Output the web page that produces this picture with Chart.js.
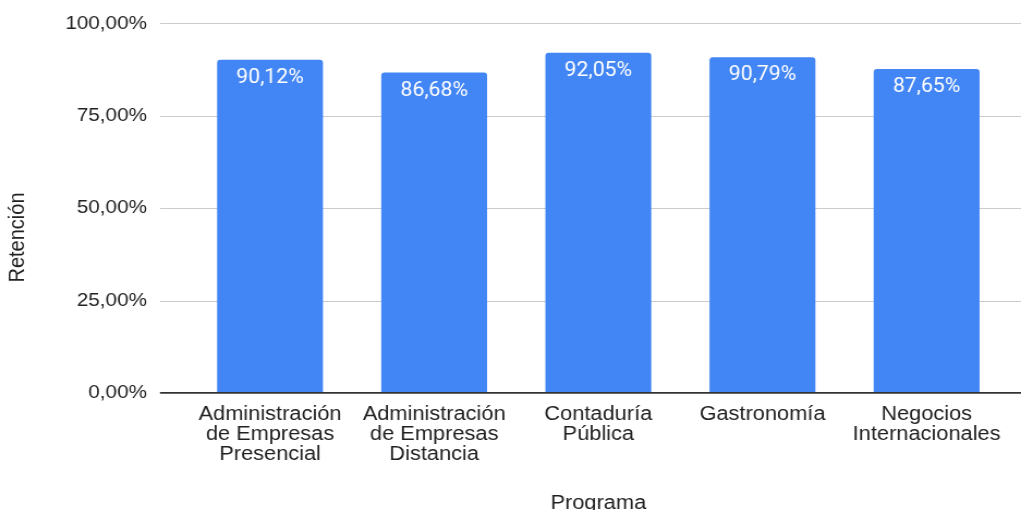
<!DOCTYPE html>
<html>
<head>
<meta charset="utf-8">
<script src="https://cdn.jsdelivr.net/npm/chart.js@4.4.0/dist/chart.umd.min.js"></script>
<style>
  html, body { margin: 0; padding: 0; background: #fff; overflow: hidden; }
  #wrap { width: 1021px; height: 510px; overflow: hidden; }
  /* the reference is a horizontally stretched export, so draw narrow and stretch */
  #chart { display: block; transform: scaleX(1.08965); transform-origin: 0 0; }
</style>
</head>
<body>
<div id="wrap"><canvas id="chart" width="937" height="510"></canvas></div>
<script>
// ===========================
// Data
// ===========================
const PROGRAMS = [
  ['Administración', 'de Empresas', 'Presencial'],
  ['Administración', 'de Empresas', 'Distancia'],
  ['Contaduría', 'Pública'],
  ['Gastronomía'],
  ['Negocios', 'Internacionales']
];
const RETENTION = [90.12, 86.68, 92.05, 90.79, 87.65];
const Y_TICKS = [0, 25, 50, 75, 100];
const X_TITLE = 'Programa';
const Y_TITLE = 'Retención';

// ===========================
// Style constants
// ===========================
const BAR_COLOR = '#4285f4';
const GRID_COLOR = '#cccccc';
const AXIS_COLOR = '#333333';
const TEXT_COLOR = '#222222';
const FONT = '"Liberation Sans", Arial, sans-serif';
const LABEL_FONT = 'Roboto, "Liberation Sans", sans-serif';
const GRID_LEFT = 146.8;

function pct(v) { return v.toFixed(2).replace('.', ',') + '%'; }

// ===========================
// Plugins: grid, baseline, labels, y title
// ===========================
const decorPlugin = {
  id: 'decor',
  beforeDatasetsDraw(chart) {
    const { ctx, scales: { y } } = chart;
    ctx.save();
    ctx.strokeStyle = GRID_COLOR;
    ctx.lineWidth = 1;
    y.ticks.forEach(t => {
      if (t.value === 0) return;
      const py = Math.round(y.getPixelForValue(t.value)) + 0.5;
      ctx.beginPath();
      ctx.moveTo(GRID_LEFT, py);
      ctx.lineTo(chart.width, py);
      ctx.stroke();
    });
    ctx.restore();
  },
  afterDatasetsDraw(chart) {
    const { ctx, scales: { y } } = chart;
    ctx.save();
    // zero line over the bar bottoms
    const py0 = y.getPixelForValue(0);
    ctx.strokeStyle = AXIS_COLOR;
    ctx.lineWidth = 1.6;
    ctx.beginPath();
    ctx.moveTo(GRID_LEFT, py0);
    ctx.lineTo(chart.width, py0);
    ctx.stroke();

    // value labels inside the bars
    ctx.fillStyle = '#ffffff';
    ctx.font = '19.5px ' + LABEL_FONT;
    ctx.textAlign = 'center';
    ctx.textBaseline = 'alphabetic';
    chart.getDatasetMeta(0).data.forEach((bar, i) => {
      ctx.fillText(pct(RETENTION[i]), bar.x, bar.y + 23);
    });

    // y axis title, centred a bit lower than the plot like the original
    ctx.fillStyle = TEXT_COLOR;
    ctx.font = '20px ' + FONT;
    ctx.textBaseline = 'middle';
    ctx.translate(16.5, 237.5);
    ctx.rotate(-Math.PI / 2);
    ctx.fillText(Y_TITLE, 0, 0);
    ctx.restore();
  }
};

// ===========================
// Chart
// ===========================
const ctx = document.getElementById('chart').getContext('2d');
new Chart(ctx, {
  type: 'bar',
  data: {
    labels: PROGRAMS,
    datasets: [{
      label: Y_TITLE,
      data: RETENTION,
      backgroundColor: BAR_COLOR,
      borderRadius: 3,
      borderSkipped: 'start',
      categoryPercentage: 0.645,
      barPercentage: 1
    }]
  },
  options: {
    responsive: false,
    devicePixelRatio: 1,
    animation: false,
    layout: { padding: { left: 0, right: 11.3, top: 23.3, bottom: 0 } },
    plugins: { legend: { display: false }, tooltip: { enabled: false } },
    scales: {
      x: {
        grid: { display: false },
        border: { display: false },
        ticks: {
          color: TEXT_COLOR,
          font: { family: FONT, size: 20, lineHeight: 1 },
          padding: 4,
          maxRotation: 0,
          autoSkip: false
        },
        title: {
          display: true,
          text: X_TITLE,
          color: TEXT_COLOR,
          font: { family: FONT, size: 20, lineHeight: 1 },
          padding: { top: 0, bottom: -3 }
        },
        afterFit: s => { s.height = 117.1; }
      },
      y: {
        min: 0,
        max: 100,
        // invisible tick marks only to push the labels away from the plot
        grid: { display: true, drawOnChartArea: false, drawTicks: true, tickLength: 37.6, tickColor: 'rgba(0,0,0,0)' },
        border: { display: false },
        afterBuildTicks: s => { s.ticks = Y_TICKS.map(v => ({ value: v })); },
        ticks: {
          color: TEXT_COLOR,
          font: { family: FONT, size: 19 },
          padding: 0,
          callback: v => pct(v)
        },
        afterFit: s => { s.width = 172.5; }
      }
    }
  },
  plugins: [decorPlugin]
});
</script>
</body>
</html>
